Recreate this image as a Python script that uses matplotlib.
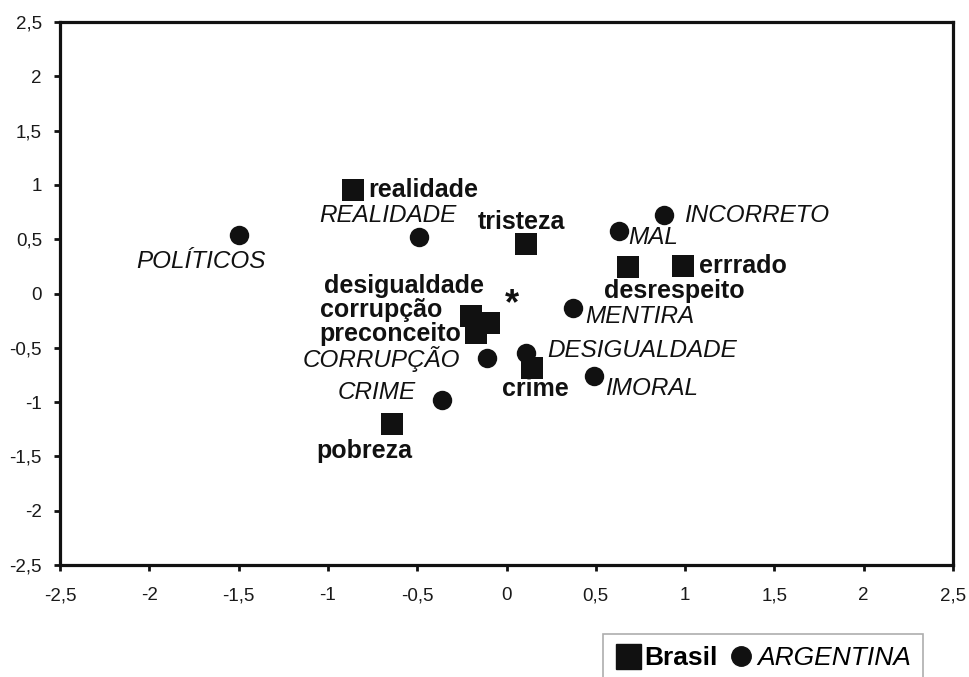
import matplotlib.pyplot as plt
from matplotlib.lines import Line2D
from matplotlib.ticker import FuncFormatter

plt.rcParams['font.family'] = ['Liberation Sans', 'DejaVu Sans']

# Brasil (squares, bold labels)
br_words = ['realidade', 'tristeza', 'desrespeito', 'errrado', 'desigualdade',
            'corrupção', 'preconceito', 'crime', 'pobreza']
br_x = [-0.86, 0.11, 0.68, 0.99, -0.20, -0.10, -0.17, 0.14, -0.64]
br_y = [0.95, 0.46, 0.24, 0.25, -0.21, -0.27, -0.36, -0.69, -1.20]

# Argentina (circles, italic labels)
ar_words = ['POLÍTICOS', 'REALIDADE', 'MAL', 'INCORRETO', 'MENTIRA',
            'CORRUPÇÃO', 'DESIGUALDADE', 'IMORAL', 'CRIME']
ar_x = [-1.50, -0.49, 0.63, 0.88, 0.37, -0.11, 0.11, 0.49, -0.36]
ar_y = [0.54, 0.52, 0.58, 0.72, -0.13, -0.59, -0.55, -0.76, -0.98]

# centroid marker
center_x, center_y = 0.03, -0.10

ticks = [-2.5, -2, -1.5, -1, -0.5, 0, 0.5, 1, 1.5, 2, 2.5]

# label offsets in pixels from the marker (dx, dy), left aligned
br_off = [(15, 0), (-48, 22), (-24, -24), (16, 0), (-147, 30),
          (-169, 13), (-157, -1), (-30, -21), (-76, -27)]
ar_off = [(-102, -27), (-100, 22), (9, -7), (20, 0), (13, -9),
          (-184, -1), (21, 3), (11, -12), (-105, 7)]

ink = '#111111'
fig = plt.figure(figsize=(9.69, 6.77), dpi=100)
ax = fig.add_axes([60 / 969, 1 - 565 / 677, 893 / 969, 543 / 677])

ax.scatter(br_x, br_y, marker='s', s=16 ** 2, color=ink, zorder=3, linewidths=0)
ax.scatter(ar_x, ar_y, marker='o', s=14 ** 2, color=ink, zorder=3, linewidths=0)

for w, x, y, (dx, dy) in zip(br_words, br_x, br_y, br_off):
    ax.annotate(w, (x, y), xytext=(dx, dy), textcoords='offset pixels',
                ha='left', va='center', fontsize=18, fontweight='bold',
                color=ink, zorder=2)
for w, x, y, (dx, dy) in zip(ar_words, ar_x, ar_y, ar_off):
    ax.annotate(w, (x, y), xytext=(dx, dy), textcoords='offset pixels',
                ha='left', va='center', fontsize=17.5, fontstyle='italic',
                color=ink, zorder=2)

ax.text(center_x, center_y, '*', fontsize=26, fontweight='bold', color=ink,
        ha='center', va='center', zorder=4)

ax.set_xlim(-2.5, 2.5)
ax.set_ylim(-2.5, 2.5)
ax.set_xticks(ticks)
ax.set_yticks(ticks)
fmt = FuncFormatter(lambda v, p: ('%g' % v).replace('.', ','))
ax.xaxis.set_major_formatter(fmt)
ax.yaxis.set_major_formatter(fmt)
ax.tick_params(direction='out', length=4, width=2, color=ink,
               labelsize=13.5, labelcolor='#1a1a1a')
ax.tick_params(axis='x', pad=12)
ax.tick_params(axis='y', pad=9)
for sp in ax.spines.values():
    sp.set_linewidth(2.3)
    sp.set_color(ink)

handles = [Line2D([], [], marker='s', ls='', color=ink, markersize=18),
           Line2D([], [], marker='o', ls='', color=ink, markersize=14)]
leg = fig.legend(handles, ['Brasil', 'ARGENTINA'], ncol=2,
                 loc='upper left', bbox_to_anchor=(603 / 969, 1 - 634 / 677),
                 fontsize=19, frameon=True, fancybox=False,
                 handlelength=1.0, handletextpad=0.1, columnspacing=0.4,
                 borderpad=0.45, borderaxespad=0)
leg.get_frame().set_edgecolor('#999999')
leg.get_frame().set_linewidth(1.2)
leg.get_texts()[0].set_fontweight('bold')
leg.get_texts()[1].set_fontstyle('italic')

fig.savefig('out.png', dpi=100)
